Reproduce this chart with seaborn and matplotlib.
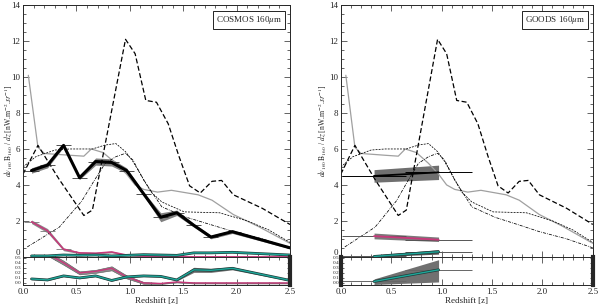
import matplotlib
matplotlib.use('Agg')
import matplotlib.pyplot as plt
import matplotlib.patheffects as pe
from matplotlib.ticker import MultipleLocator
import numpy as np
import seaborn as sns

### model curves (drawn on both panels)
solid_z = [0.05, 0.14, 0.2, 0.44, 0.57, 0.64, 0.75, 0.87, 0.97, 1.05, 1.13, 1.26, 1.39, 1.64, 1.77, 1.97, 2.2, 2.5]
solid_y = [10.1, 6.1, 5.75, 5.65, 5.6, 6.0, 5.8, 5.2, 4.6, 4.0, 3.75, 3.6, 3.7, 3.45, 3.15, 2.35, 1.7, 0.75]

dash_z = [0.0, 0.14, 0.34, 0.57, 0.65, 0.96, 1.05, 1.15, 1.25, 1.36, 1.46, 1.56, 1.66, 1.77, 1.86, 1.97, 2.24, 2.5]
dash_y = [4.6, 6.2, 4.3, 2.3, 2.6, 12.1, 11.3, 8.7, 8.6, 7.4, 5.6, 3.95, 3.55, 4.2, 4.25, 3.45, 2.7, 1.8]

dashdot_z = [0.04, 0.34, 0.55, 0.67, 0.77, 0.87, 0.96, 1.03, 1.13, 1.3, 1.53, 1.78, 1.97, 2.24, 2.5]
dashdot_y = [0.55, 1.65, 3.1, 4.27, 5.2, 5.57, 5.76, 5.38, 4.27, 2.78, 2.2, 1.75, 1.4, 1.0, 0.5]

short_z = [0.0, 0.12, 0.3, 0.44, 0.65, 0.77, 0.87, 0.96, 1.03, 1.2, 1.3, 1.51, 1.84, 2.1, 2.3, 2.5]
short_y = [5.0, 5.57, 5.94, 6.0, 6.0, 6.22, 6.3, 5.85, 5.3, 3.6, 3.05, 2.5, 2.45, 2.0, 1.5, 0.8]

### COSMOS 160um stacking
cosmos_z = [0.08, 0.23, 0.38, 0.53, 0.68, 0.83, 0.97, 1.13, 1.29, 1.44, 1.6, 1.76, 1.96, 2.5]
cosmos_xerr = [0.07, 0.07, 0.07, 0.07, 0.07, 0.07, 0.07, 0.07, 0.07, 0.07, 0.07, 0.07, 0.08, 0.0]
cosmos_tot = [4.8, 5.1, 6.2, 4.4, 5.3, 5.25, 4.8, 3.5, 2.2, 2.45, 1.75, 1.1, 1.4, 0.5]
cosmos_tot_err = [0.15, 0.15, 0.1, 0.1, 0.2, 0.2, 0.15, 0.1, 0.25, 0.15, 0.1, 0.1, 0.1, 0.05]
cosmos_mag = [1.95, 1.45, 0.42, 0.22, 0.2, 0.27, 0.1, 0.03, 0.0, 0.02, 0.0, 0.0, 0.0, 0.0]
cosmos_mag_err = [0.1, 0.12, 0.08, 0.05, 0.05, 0.05, 0.03, 0.02, 0.02, 0.02, 0.01, 0.01, 0.01, 0.01]
cosmos_cyan = [0.05, 0.05, 0.1, 0.08, 0.1, 0.05, 0.08, 0.12, 0.1, 0.08, 0.22, 0.22, 0.25, 0.1]
cosmos_res_mag = [0.75, 0.58, 0.4, 0.2, 0.23, 0.29, 0.12, 0.0, -0.01, 0.02, 0.0, 0.0, 0.0, 0.0]
cosmos_res_mag_err = [0.04, 0.04, 0.04, 0.03, 0.03, 0.04, 0.03, 0.02, 0.01, 0.01, 0.01, 0.01, 0.01, 0.01]
cosmos_res_cyan = [0.08, 0.06, 0.14, 0.1, 0.14, 0.05, 0.12, 0.14, 0.13, 0.06, 0.26, 0.25, 0.29, 0.05]
cosmos_res_cyan_err = [0.015, 0.015, 0.015, 0.015, 0.015, 0.015, 0.015, 0.015, 0.015, 0.02, 0.05, 0.04, 0.03, 0.01]

### GOODS 160um stacking
goods_z = [0.33, 0.97]
goods_xerr = [0.32, 0.33]
goods_tot = [4.5, 4.7]
goods_tot_lo = [4.15, 4.3]
goods_tot_hi = [4.85, 5.1]
goods_mag = [1.15, 0.95]
goods_mag_lo = [1.0, 0.85]
goods_mag_hi = [1.32, 1.1]
goods_cyan = [0.02, 0.28]
goods_cyan_lo = [0.0, 0.15]
goods_cyan_hi = [0.1, 0.4]
goods_res_cyan = [0.03, 0.26]
goods_res_cyan_lo = [-0.03, 0.02]
goods_res_cyan_hi = [0.08, 0.46]

MAG = '#c8387a'
CYAN = '#1fa79a'
DARK = '#1c3b38'

sns.set_style('ticks')
plt.rcParams['font.family'] = ['Liberation Serif', 'DejaVu Serif']
plt.rcParams['mathtext.fontset'] = 'stix'
plt.rcParams['axes.linewidth'] = 0.7


def draw_models(ax):
    sns.lineplot(x=solid_z, y=solid_y, ax=ax, sort=False, color='#a0a0a0', lw=0.9)
    sns.lineplot(x=dash_z, y=dash_y, ax=ax, sort=False, color='k', lw=0.9, linestyle=(0, (4, 2)))
    sns.lineplot(x=dashdot_z, y=dashdot_y, ax=ax, sort=False, color='k', lw=0.55, linestyle=(0, (4, 1.5, 1, 1.5)))
    sns.lineplot(x=short_z, y=short_y, ax=ax, sort=False, color='k', lw=0.55, linestyle=(0, (2.5, 1.5)))


def style_axes(ax, ymajor, yminor, fs):
    ax.set_xlim(0, 2.5)
    ax.xaxis.set_major_locator(MultipleLocator(0.5))
    ax.xaxis.set_minor_locator(MultipleLocator(0.1))
    ax.yaxis.set_major_locator(MultipleLocator(ymajor))
    ax.yaxis.set_minor_locator(MultipleLocator(yminor))
    ax.tick_params(which='both', direction='in', top=True, right=True, labelsize=fs, width=0.5, pad=2)
    ax.tick_params(which='major', length=4)
    ax.tick_params(which='minor', length=2)


def cyan_line(ax, x, y):
    sns.lineplot(x=x, y=y, ax=ax, sort=False, color=CYAN, lw=1.0,
                 path_effects=[pe.Stroke(linewidth=2.0, foreground=DARK), pe.Normal()])


fig = plt.figure(figsize=(6, 3.05), dpi=100)
ylab = r'$d\nu_{160}\,\mathrm{B}_{160}$ / $dz$ [nW.m$^{-2}$.$sr^{-1}$]'

panels = [
    (0.0383, 0.445, 'COSMOS 160$\\mu$m', -0.055),
    (0.568, 0.420, 'GOODS 160$\\mu$m', -0.07),
]

for i, (left, width, label, labx) in enumerate(panels):
    ax = fig.add_axes([left, 0.158, width, 0.825])
    rax = fig.add_axes([left, 0.0656, width, 0.0928])

    draw_models(ax)

    if i == 0:
        z = np.array(cosmos_z)
        tot, terr = np.array(cosmos_tot), np.array(cosmos_tot_err)
        ax.fill_between(z, tot - terr, tot + terr, color='#808080', lw=0)
        ax.errorbar(z, tot, xerr=cosmos_xerr, fmt='none', ecolor='#333333', elinewidth=0.6, capsize=0)
        sns.lineplot(x=z, y=tot, ax=ax, sort=False, color='k', lw=2.2)

        mag, merr = np.array(cosmos_mag), np.array(cosmos_mag_err)
        ax.fill_between(z, mag - merr, mag + merr, color='#8c8c8c', lw=0)
        ax.errorbar(z[:3], mag[:3], xerr=cosmos_xerr[:3], fmt='none', ecolor='#777777', elinewidth=0.6, capsize=0)
        sns.lineplot(x=z, y=mag, ax=ax, sort=False, color=MAG, lw=1.1)
        cyan_line(ax, z, cosmos_cyan)

        rm, rme = np.array(cosmos_res_mag), np.array(cosmos_res_mag_err)
        rax.fill_between(z, rm - rme, rm + rme, color='#8c8c8c', ec='#555555', lw=0.4)
        sns.lineplot(x=z, y=rm, ax=rax, sort=False, color=MAG, lw=1.0)
        rc, rce = np.array(cosmos_res_cyan), np.array(cosmos_res_cyan_err)
        rax.fill_between(z, rc - rce, rc + rce, color='#707070', lw=0)
        cyan_line(rax, z, rc)
        rax.spines['right'].set_linewidth(3)
    else:
        z = np.array(goods_z)
        ax.errorbar(z, goods_tot, xerr=goods_xerr, fmt='none', ecolor='k', elinewidth=0.7, capsize=0)
        ax.fill_between(z, goods_tot_lo, goods_tot_hi, color='#6f6f6f', lw=0)
        sns.lineplot(x=z, y=goods_tot, ax=ax, sort=False, color='k', lw=1.3)

        ax.errorbar(z, goods_mag, xerr=goods_xerr, fmt='none', ecolor='#555555', elinewidth=0.7, capsize=0)
        ax.fill_between(z, goods_mag_lo, goods_mag_hi, color='#7a7a7a', lw=0)
        sns.lineplot(x=z, y=goods_mag, ax=ax, sort=False, color=MAG, lw=1.3)

        ax.errorbar(z, goods_cyan, xerr=goods_xerr, fmt='none', ecolor='#555555', elinewidth=0.7, capsize=0)
        ax.fill_between(z, goods_cyan_lo, goods_cyan_hi, color='#555555', lw=0)
        cyan_line(ax, z, goods_cyan)

        rax.errorbar(z, goods_res_cyan, xerr=goods_xerr, fmt='none', ecolor='#666666', elinewidth=0.7, capsize=0)
        rax.fill_between(z, goods_res_cyan_lo, goods_res_cyan_hi, color='#707070', lw=0)
        cyan_line(rax, z, goods_res_cyan)
        rax.spines['left'].set_linewidth(3)
        rax.spines['right'].set_linewidth(3)

    ax.set_ylim(0, 14)
    style_axes(ax, 2, 0.5, 6.5)
    ax.set_yticks(range(0, 15, 2))
    ax.set_yticklabels([str(v) for v in range(0, 15, 2)])
    ax.get_yticklabels()[0].set_va('bottom')
    ax.tick_params(labelbottom=False)
    ax.set_xlabel('')
    ax.set_ylabel(ylab, fontsize=5.5)
    ax.yaxis.label.set_va('center')
    ax.yaxis.set_label_coords(labx, 0.5)
    ax.text(0.97, 0.965, label, transform=ax.transAxes, ha='right', va='top', fontsize=6.5,
            bbox=dict(boxstyle='square,pad=0.3', fc='white', ec='k', lw=0.6))

    rax.set_ylim(-0.04, 0.52)
    style_axes(rax, 0.1, 0.1, 3.8)
    rax.set_yticks([0.0, 0.1, 0.2, 0.3, 0.4, 0.5])
    rax.set_yticklabels(['0.0', '0.1', '0.2', '0.3', '0.4', '0.5'])
    rax.tick_params(axis='x', labelsize=6.5)
    rax.tick_params(axis='y', which='major', length=2, pad=1)
    rax.set_xlabel('Redshift [z]', fontsize=6.5, labelpad=1)
    rax.set_ylabel('')

fig.savefig('out.png', dpi=100)
